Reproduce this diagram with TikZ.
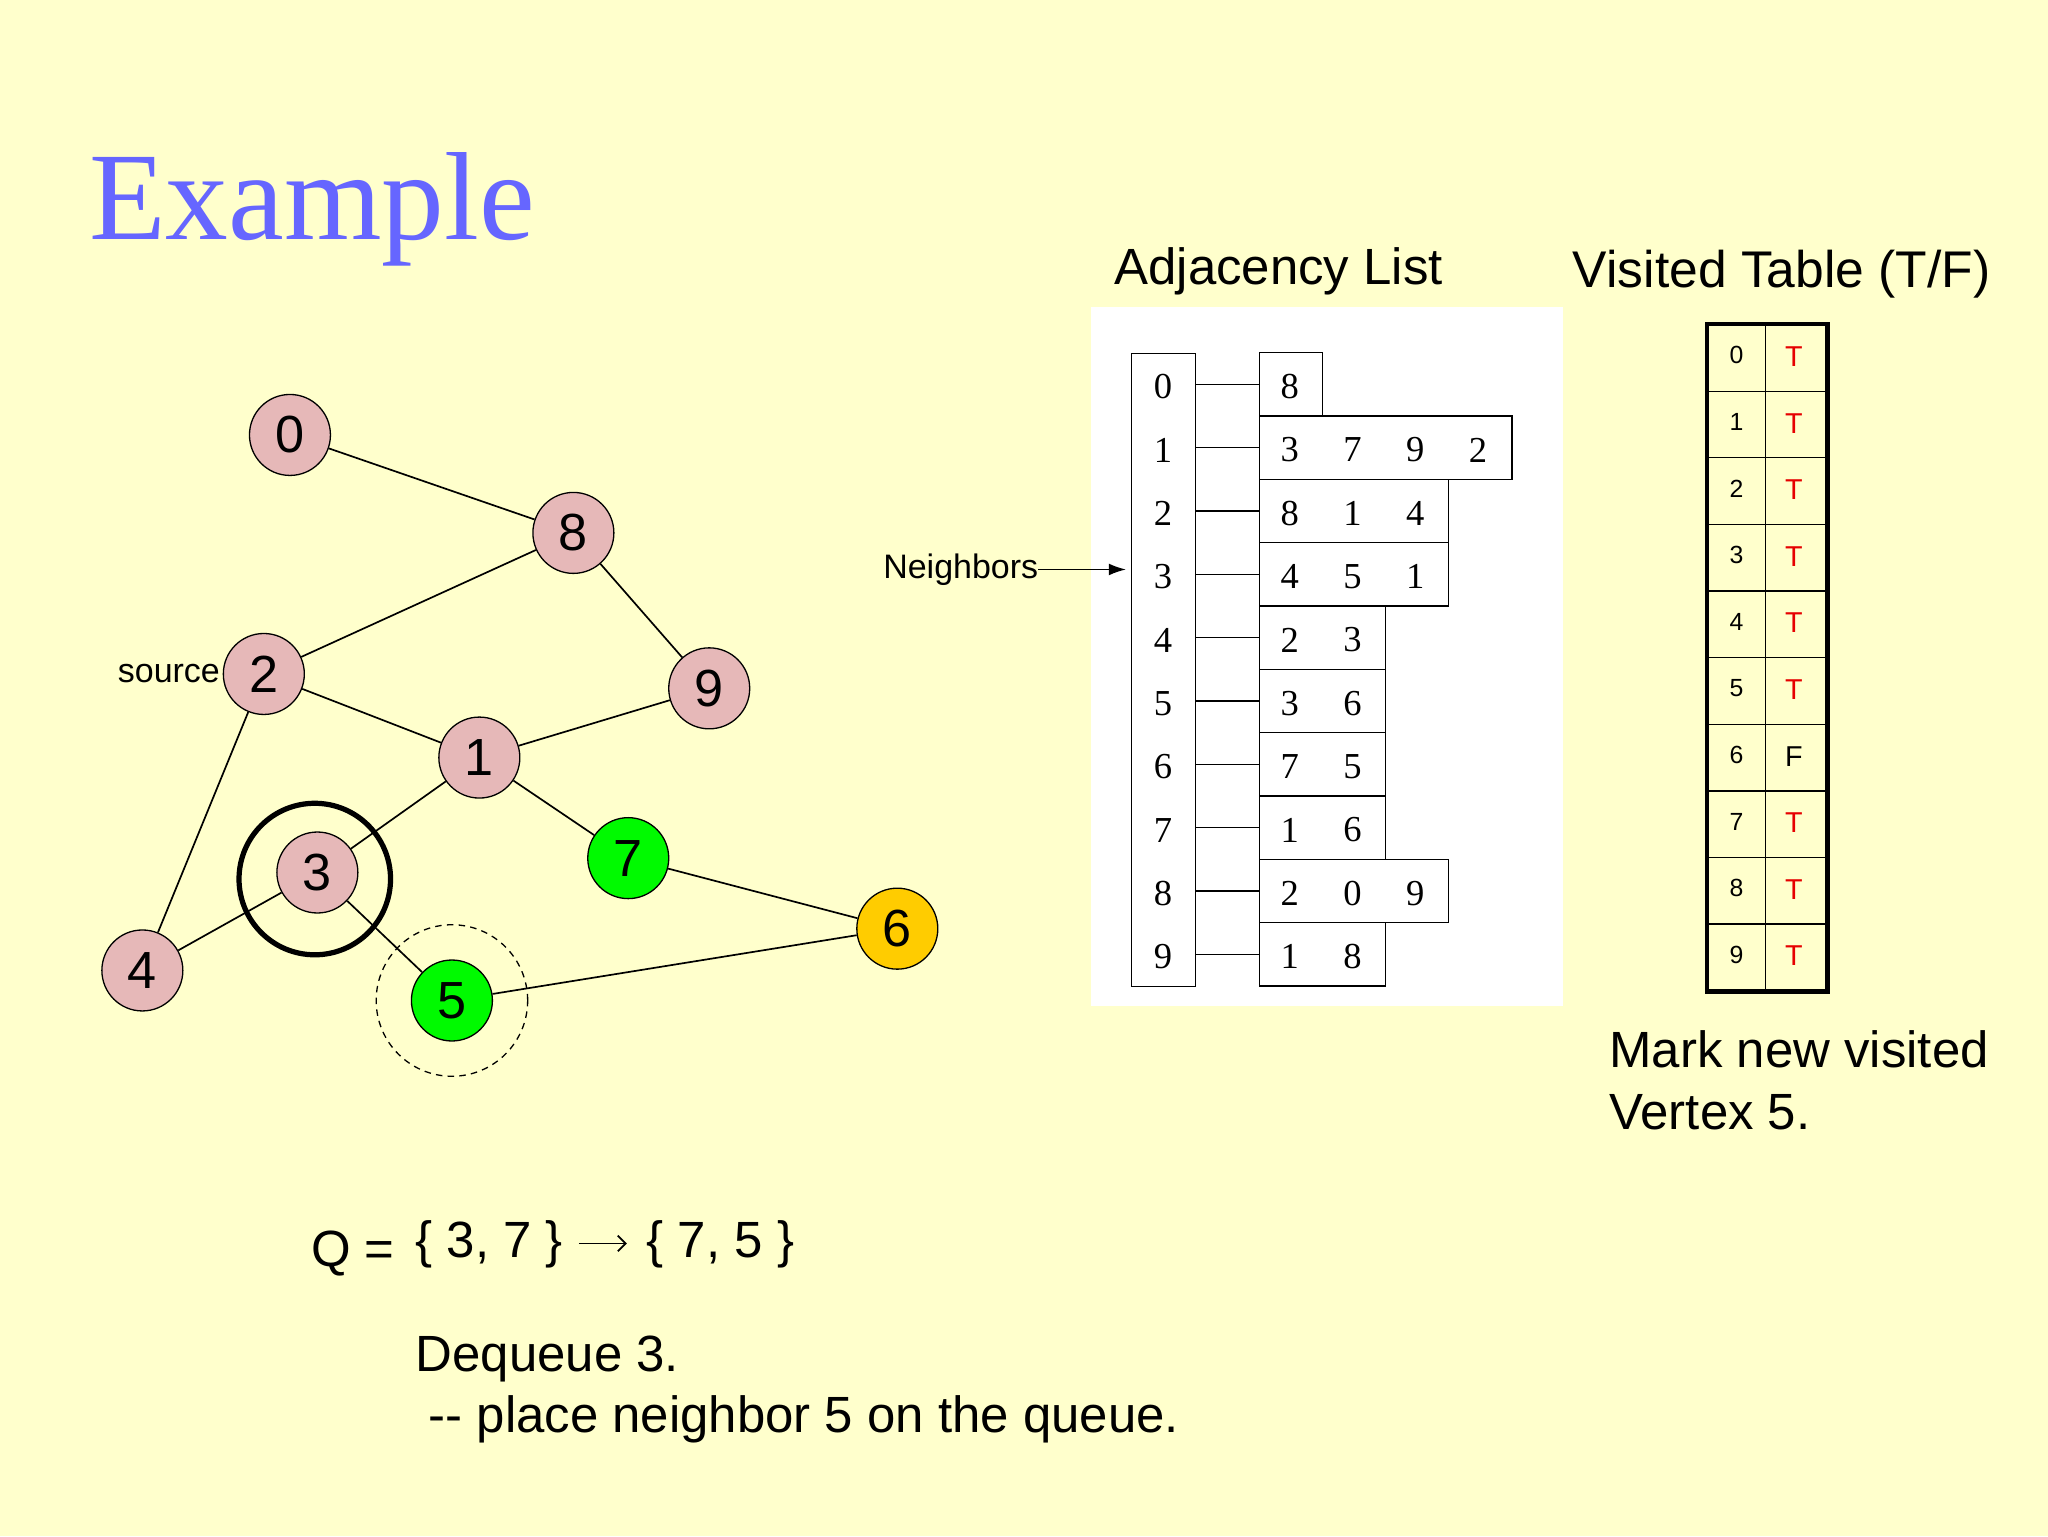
\documentclass[tikz,border=0pt]{standalone}
\usepackage{fontspec}
\setmainfont{Liberation Sans}
\newfontfamily\seriffont{Liberation Serif}
\usetikzlibrary{arrows.meta}
\definecolor{bg}{RGB}{255,255,204}
\definecolor{pinkv}{RGB}{230,184,184}
\definecolor{greenv}{RGB}{0,250,0}
\definecolor{goldv}{RGB}{255,204,0}
\definecolor{titleblue}{RGB}{102,102,255}
\definecolor{redT}{RGB}{230,0,0}
\begin{document}
\begin{tikzpicture}[x=1pt,y=-1pt,
  vtx/.style={circle,draw,line width=1pt,minimum size=62pt,inner sep=0pt,font=\fontsize{40}{40}\selectfont},
  edge/.style={line width=1.3pt},
  txt/.style={inner sep=0pt,anchor=base west,font=\fontsize{39}{47}\selectfont},
  idxlab/.style={inner sep=0pt,font=\seriffont\fontsize{28}{28}\selectfont},
  adjrow/.style={draw,line width=1pt,anchor=west,minimum height=48.5pt,inner sep=0pt},
  vcell/.style={draw,line width=1pt,minimum width=44pt,minimum height=51pt,inner sep=0pt,font=\fontsize{19}{19}\selectfont},
]
% background
\fill[bg] (0,0) rectangle (1568,1176);
\useasboundingbox (0,0) rectangle (1568,1176);
\fill[white] (835,235) rectangle (1197,770);

% title
\node[txt,font=\seriffont\fontsize{96}{96}\selectfont,text=titleblue] (title) at (68,183) {Example};

% headings
\node[txt] (adjhead) at (853,218) {Adjacency List};
\node[txt,font=\fontsize{39.5}{47}\selectfont] (vishead) at (1204,220) {Visited Table (T/F)};

% graph
\node[vtx,fill=pinkv] (n0) at (222,333) {0};
\node[vtx,fill=pinkv] (n8) at (439,408) {8};
\node[vtx,fill=pinkv] (n2) at (202,516) {2};
\node[vtx,fill=pinkv] (n9) at (543,527) {9};
\node[vtx,fill=pinkv] (n1) at (367,580) {1};
\node[vtx,fill=greenv] (n7) at (481,657) {7};
\node[vtx,fill=pinkv] (n3) at (243,668) {3};
\node[vtx,fill=goldv] (n6) at (687,711) {6};
\node[vtx,fill=pinkv] (n4) at (109,743) {4};
\node[vtx,fill=greenv] (n5) at (346,766) {5};

\draw[edge] (n0) -- (n8);
\draw[edge] (n8) -- (n2);
\draw[edge] (n8) -- (n9);
\draw[edge] (n2) -- (n1);
\draw[edge] (n2) -- (n4);
\draw[edge] (n1) -- (n9);
\draw[edge] (n1) -- (n3);
\draw[edge] (n1) -- (n7);
\draw[edge] (n3) -- (n4);
\draw[edge] (n3) -- (n5);
\draw[edge] (n7) -- (n6);
\draw[edge] (n5) -- (n6);

\node[circle,draw,line width=4pt,minimum size=116pt,inner sep=0pt] (ring3) at (241,673) {};
\node[circle,draw,line width=1pt,dash pattern=on 5pt off 4pt,minimum size=116pt,inner sep=0pt] (ring5) at (346,766) {};

\node[inner sep=2pt,anchor=east,font=\fontsize{26}{26}\selectfont] (src) at (n2.west) {source};

% adjacency list
\node[draw,line width=1pt,minimum width=49pt,minimum height=485pt,inner sep=0pt,anchor=north west] (idx) at (866,270) {};
\foreach \i in {0,...,9} {
  \node[idxlab] (ix\i) at (890.5,{296+48.5*\i}) {\i};
}
\foreach \i/\n/\lst in {0/1/{8},1/4/{3,7,9,2},2/3/{8,1,4},3/3/{4,5,1},4/2/{2,3},5/2/{3,6},6/2/{7,5},7/2/{1,6},8/3/{2,0,9},9/2/{1,8}} {
  \node[adjrow,minimum width={48.25*\n}] (r\i) at (964,{294.25+48.5*\i}) {};
  \draw[line width=1pt] (r\i.west -| idx.east) -- (r\i.west);
  \foreach \v [count=\k from 0] in \lst {
    \node[idxlab] (d\i-\k) at ({987.5+48*\k},{296+48.5*\i}) {\v};
  }
}

\node[inner sep=0pt,anchor=east,font=\fontsize{26}{26}\selectfont] (nb) at (795,436) {Neighbors};
\draw[line width=1pt,-{Latex[length=13pt,width=9pt]},shorten >=4pt] (nb.east) -- (nb.east -| idx.west);

% visited table
\foreach \i/\val/\col in {0/T/redT,1/T/redT,2/T/redT,3/T/redT,4/T/redT,5/T/redT,6/F/black,7/T/redT,8/T/redT,9/T/redT} {
  \node[vcell,anchor=north west] (vi\i) at (1307,{248+51*\i}) {\raisebox{4pt}{\i}};
  \node[vcell,anchor=north west,minimum width=47pt,text=\col,font=\fontsize{22}{22}\selectfont] (vv\i) at (1351,{248+51*\i}) {\hspace*{-3pt}\raisebox{2pt}{\val}};
}
\draw[line width=3.5pt] (vi0.north west) rectangle (vv9.south east);

% text
\node[txt] (mark1) at (1232,817) {Mark new visited};
\node[txt] (mark2) at (1232,865) {Vertex 5.};
\node[txt] (qlab) at (238,970) {Q =};
\node[txt] (qa) at (318,963) {\{ 3, 7 \}};
\node[txt] (qb) at (495,963) {\{ 7, 5 \}};
\draw[line width=1.4pt,-{Straight Barb[length=6pt,width=12pt]}] ([shift={(12,-11)}]qa.base east) -- ([shift={(-15,-11)}]qb.base west);
\node[txt] (deq) at (318,1050) {Dequeue 3.};
\node[txt] (place) at (328,1097) {-{}- place neighbor 5 on the queue.};
\end{tikzpicture}
\end{document}
